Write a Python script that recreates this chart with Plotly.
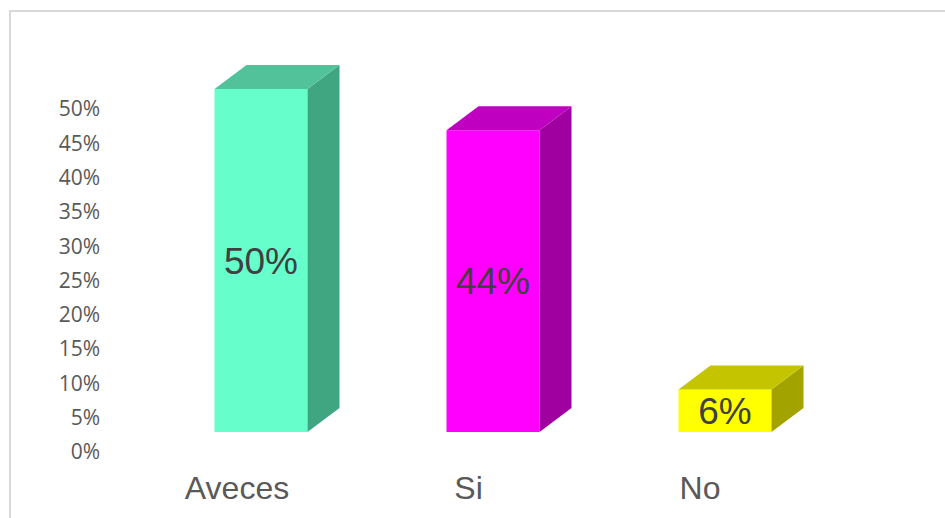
import plotly.graph_objects as go

categories = ["Aveces", "Si", "No"]
bar_values = [50, 44, 6.2]
bar_labels = ["50%", "44%", "6%"]
tick_values = [0, 5, 10, 15, 20, 25, 30, 35, 40, 45, 50]
front_colors = ["#66FFCC", "#FF00FF", "#FFFF00"]
top_colors = ["#52C29B", "#C000C0", "#C4C400"]
side_colors = ["#40A682", "#A000A0", "#A3A300"]
positions = [0, 1, 2]

W, H = 945, 518
PLOT_H = 466
BAR_W = 93 / 232
DX = 32 / 232
DY = 24 / 6.86
LABEL_SHIFT = 4 / 6.86

fig = go.Figure()
fig.add_trace(go.Bar(x=positions, y=bar_values, width=BAR_W, marker=dict(color=front_colors, line=dict(width=0)),
                     hoverinfo="skip", showlegend=False))
for p, v, tc, sc in zip(positions, bar_values, top_colors, side_colors):
    l, r = p - BAR_W / 2, p + BAR_W / 2
    fig.add_trace(go.Scatter(x=[r, r + DX, r + DX, r, r], y=[0, DY, v + DY, v, 0], mode="lines", fill="toself",
                             fillcolor=sc, line=dict(width=0), hoverinfo="skip", showlegend=False))
    fig.add_trace(go.Scatter(x=[l, l + DX, r + DX, r, l], y=[v, v + DY, v + DY, v, v], mode="lines", fill="toself",
                             fillcolor=tc, line=dict(width=0), hoverinfo="skip", showlegend=False))
fig.add_trace(go.Scatter(x=positions, y=[v / 2 - LABEL_SHIFT for v in bar_values], mode="text", text=bar_labels,
                         textposition="middle center",
                         textfont=dict(family="Liberation Sans", size=37, color="#404040"),
                         hoverinfo="skip", showlegend=False))
# Invisible carrier so that the two offset label axes (3D back wall) are drawn
fig.add_trace(go.Scatter(x=positions, y=tick_values[:3], xaxis="x2", yaxis="y2", mode="markers",
                         marker=dict(opacity=0), hoverinfo="skip", showlegend=False))

fig.update_layout(
    width=W, height=H, autosize=False,
    margin=dict(l=0, r=0, t=0, b=H - PLOT_H, pad=0),
    paper_bgcolor="white", plot_bgcolor="rgba(0,0,0,0)",
    barmode="overlay",
    xaxis=dict(visible=False, range=[-261 / 232, (W - 261) / 232], domain=[0, 1]),
    yaxis=dict(visible=False, range=[(432 - PLOT_H) / 6.86, 432 / 6.86], domain=[0, 1]),
    xaxis2=dict(overlaying="x", anchor="y", side="bottom", range=[-237 / 231.5, (W - 237) / 231.5],
                tickmode="array", tickvals=positions, ticktext=categories, ticks="", showgrid=False,
                zeroline=False, showline=False, ticklen=0,
                tickfont=dict(family="Liberation Sans", size=32, color="#595959")),
    yaxis2=dict(overlaying="y", anchor="free", position=100 / W, side="left",
                range=[(452 - PLOT_H) / 6.86, 452 / 6.86],
                tickmode="array", tickvals=tick_values, ticktext=[f"{t}%" for t in tick_values],
                ticks="", showgrid=False, zeroline=False, showline=False,
                tickfont=dict(family="Open Sans", size=21, color="#595959")),
    shapes=[dict(type="rect", xref="paper", yref="paper", x0=10 / W, x1=1.02, y0=-0.3, y1=1 - 11 / PLOT_H,
                 line=dict(color="#D9D9D9", width=2), fillcolor="rgba(0,0,0,0)", layer="below")],
)
fig.write_html("out.html", config={"displayModeBar": False},
               post_script="document.body.style.margin='0';document.body.style.overflow='hidden';")
